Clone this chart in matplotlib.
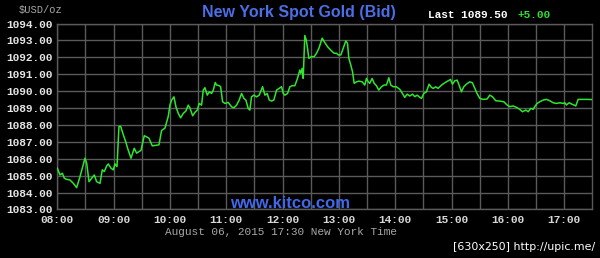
import matplotlib
matplotlib.use("Agg")
import matplotlib.pyplot as plt
from matplotlib.ticker import FixedLocator, FormatStrFormatter

# minutes after 08:00 New York time, bid price in USD/oz
minutes = [
    0, 2.9, 5.4, 7.5, 10.0, 13.5, 17.1, 20.6, 24.2, 29.5, 31.3, 33.8, 36.6, 39.4,
    41.9, 45.5, 47.9, 50.1, 52.6, 54.3, 57.2, 59.7, 61.4, 63.6, 65.7, 67.5, 70.3,
    72.8, 74.9, 78.5, 82.0, 84.5, 89.1, 92.7, 97.6, 101.2, 108.3, 111.1, 114.7,
    118.2,
    120.0, 121.8, 124.3, 126.4, 128.9, 131.4, 134.2, 137.0, 139.5, 141.3, 144.2,
    146.6, 149.1, 151.2, 153.7, 155.5, 157.3, 159.8, 161.9, 164.4, 166.2, 168.3,
    169.7, 172.6, 174.0, 176.1, 178.6, 182.1, 185.7, 188.2, 191.0, 193.8, 196.3,
    198.8, 200.9, 203.4, 205.2, 206.9, 209.4, 212.3, 215.1, 218.7, 221.2, 223.6,
    225.8, 228.3, 230.7, 233.6, 236.4, 238.9, 240.7,
    242.5, 245.3, 247.8, 250.3, 253.1, 255.9, 258.4, 259.5, 260.9, 262.0, 263.0,
    263.7, 265.2, 266.6, 268.0, 270.8, 273.7, 276.2, 278.7, 282.2, 284.3, 287.9,
    292.1, 295.0, 297.5, 299.3, 302.1, 304.6, 307.4, 309.2, 310.6, 312.7, 314.5,
    316.3, 318.8, 321.2, 324.8, 327.6, 329.4, 331.2, 332.9, 335.4, 337.6, 340.0,
    342.5, 345.4, 348.2, 350.7, 353.2, 355.3, 357.8, 361.3,
    364.9, 367.7, 370.2, 372.7, 375.5, 378.4, 380.9, 383.4, 386.2, 388.0, 390.5,
    393.3, 396.1, 398.6, 400.4, 403.2, 405.7, 409.3, 412.8, 416.4, 418.9, 421.0,
    423.5, 426.0, 428.1, 430.6, 433.0, 435.9, 439.4, 442.3, 444.8, 447.2, 450.1,
    453.6, 457.9, 460.7, 463.6, 467.1, 471.4, 475.7, 479.2, 482.1, 485.6, 489.2,
    492.7, 495.6, 499.2, 501.7, 504.5, 507.0, 508.7, 511.2, 514.1, 517.6, 521.2,
    524.7, 528.3, 531.8, 535.4, 538.9, 540.7, 542.5, 545.3, 547.8, 550.3, 552.4,
    554.9, 558.5, 563.8, 570.0,
]
bid = [
    1085.44, 1085.04, 1085.14, 1084.84, 1084.78, 1084.74, 1084.54, 1084.29, 1084.94,
    1086.03, 1085.73, 1084.64, 1084.84, 1085.04, 1084.64, 1084.54, 1085.34, 1085.24,
    1085.57, 1085.69, 1085.44, 1085.34, 1085.69, 1085.53, 1087.91, 1087.91, 1087.42,
    1087.02, 1086.62, 1086.03, 1086.62, 1086.33, 1086.49, 1087.36, 1087.22, 1086.76,
    1086.82, 1087.67, 1087.81, 1088.50,
    1089.17, 1089.47, 1089.66, 1089.07, 1088.68, 1088.42, 1088.68, 1088.82, 1089.17,
    1089.01, 1088.54, 1088.74, 1088.88, 1089.27, 1089.17, 1090.06, 1090.20, 1089.76,
    1089.96, 1089.86, 1090.06, 1090.51, 1090.36, 1090.32, 1090.26, 1089.37, 1089.27,
    1089.33, 1089.07, 1089.01, 1089.17, 1089.47, 1089.86, 1089.57, 1089.47, 1088.97,
    1088.88, 1089.66, 1089.76, 1089.66, 1089.76, 1090.26, 1089.76, 1089.86, 1089.47,
    1089.41, 1089.47, 1090.06, 1090.16, 1090.26, 1089.86,
    1089.76, 1089.86, 1090.26, 1090.32, 1090.32, 1090.75, 1091.25, 1091.05, 1091.35,
    1090.75, 1092.34, 1093.29, 1093.03, 1092.53, 1091.94, 1092.04, 1092.04, 1092.24,
    1092.53, 1093.13, 1092.93, 1092.63, 1092.38, 1092.24, 1092.24, 1092.14, 1092.14,
    1092.53, 1092.97, 1092.83, 1091.94, 1091.54, 1091.15, 1090.46, 1090.55, 1090.59,
    1090.55, 1090.36, 1090.75, 1090.55, 1090.46, 1090.75, 1090.46, 1090.32, 1090.06,
    1090.26, 1090.36, 1090.36, 1090.79, 1090.36, 1090.26, 1090.26,
    1090.10, 1089.86, 1089.63, 1089.82, 1089.71, 1089.82, 1089.67, 1089.76, 1089.63,
    1089.57, 1089.86, 1089.96, 1090.41, 1090.22, 1090.16, 1090.25, 1090.16, 1090.35,
    1090.49, 1090.61, 1090.69, 1090.41, 1090.61, 1090.65, 1090.35, 1089.96, 1090.25,
    1090.41, 1090.55, 1090.49, 1090.16, 1089.86, 1089.57, 1089.51, 1089.53, 1089.76,
    1089.67, 1089.43, 1089.41, 1089.37, 1089.18, 1089.08, 1089.12, 1089.04, 1088.92,
    1088.78, 1088.88, 1088.78, 1088.98, 1088.92, 1089.08, 1089.27, 1089.37, 1089.47,
    1089.51, 1089.43, 1089.31, 1089.27, 1089.31, 1089.27, 1089.31, 1089.18, 1089.31,
    1089.24, 1089.18, 1089.12, 1089.51, 1089.51, 1089.51, 1089.50,
]

hour_ticks = [0, 60, 120, 180, 240, 300, 360, 420, 480, 540]
hour_labels = ["08:00", "09:00", "10:00", "11:00", "12:00",
               "13:00", "14:00", "15:00", "16:00", "17:00"]
half_hours = [30, 90, 150, 210, 270, 330, 390, 450, 510]
price_ticks = [1083, 1084, 1085, 1086, 1087, 1088, 1089, 1090, 1091, 1092, 1093, 1094]

last_price = "Last 1089.50"
change = "+5.00"

W, H = 600, 258
MONO = "Liberation Mono"
GRID = "#5a5a5a"

fig = plt.figure(figsize=(W / 100, H / 100), dpi=100, facecolor="black")
ax = fig.add_axes([57.3 / W, 1 - 209.4 / H, (592.3 - 57.3) / W, (209.4 - 23.5) / H])
ax.set_facecolor("black")

ax.plot(minutes, bid, color="#2ee62e", lw=1.1, zorder=3)

ax.set_xlim(0, 570)
ax.set_ylim(1083, 1094)
ax.xaxis.set_major_locator(FixedLocator(hour_ticks))
ax.xaxis.set_minor_locator(FixedLocator(half_hours))
ax.set_xticklabels(hour_labels)
ax.yaxis.set_major_locator(FixedLocator(price_ticks))
ax.yaxis.set_major_formatter(FormatStrFormatter("%.2f"))

ax.grid(True, which="both", color=GRID, lw=1.0)
ax.set_axisbelow(True)
for s in ax.spines.values():
    s.set_color(GRID)
    s.set_linewidth(1.0)

ax.tick_params(axis="both", which="both", length=0)
ax.tick_params(axis="y", pad=3, labelsize=8, labelcolor="#e6e6e6")
ax.tick_params(axis="x", pad=4, labelsize=8, labelcolor="#d8d8d8")
for lab in ax.get_xticklabels() + ax.get_yticklabels():
    lab.set_fontfamily(MONO)
    lab.set_fontweight("bold")


def ftext(px, py, s, **kw):
    fig.text(px / W, 1 - py / H, s, **kw)


ftext(299, 12, "New York Spot Gold (Bid)", ha="center", va="center",
      family="Liberation Sans", weight="bold", size=11.5, color="#4a6fe6")
ftext(41, 10, "$USD/oz", ha="center", va="center", family=MONO,
      size=7.5, color="#a8a8a8")
ftext(428, 15, last_price, ha="left", va="center", family=MONO,
      weight="bold", size=8, color="white")
ftext(517, 15, change, ha="left", va="center", family=MONO,
      weight="bold", size=8, color="#33dd33")
ftext(290, 203, "www.kitco.com", ha="center", va="center",
      family="Liberation Sans", weight="bold", size=12, color="#4068ea")
ftext(281, 232, "August 06, 2015 17:30 New York Time", ha="center",
      va="center", family=MONO, size=8, color="#a8a8a8")
ftext(595, 247, "[630x250] http://upic.me/", ha="right", va="center",
      family="DejaVu Sans", size=7.9, color="white")

fig.savefig("out.png", dpi=100, facecolor="black")
